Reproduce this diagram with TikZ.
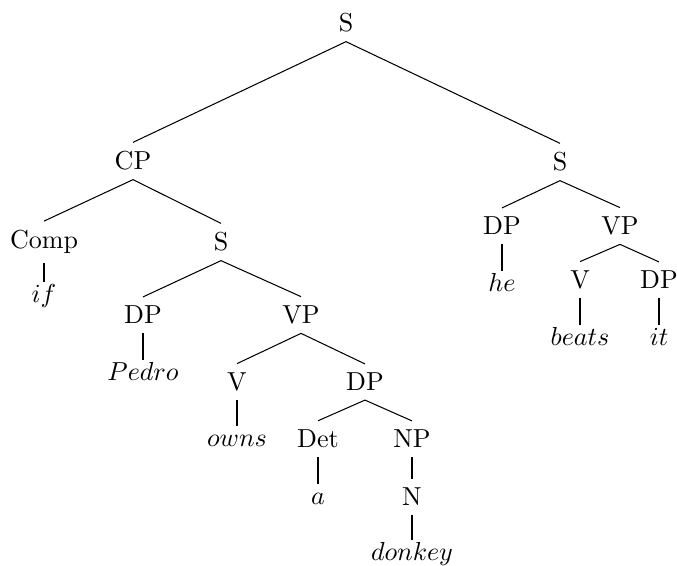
\documentclass[tikz,border=0pt]{standalone}
\usepackage{amsmath}

\begin{document}
\begin{tikzpicture}[x=0.01351cm, y=-0.01351cm,
                    word/.style={anchor=base, text height=1ex, text depth=0pt}]
            \useasboundingbox (0,0) rectangle (677,565);
            % left clause
            \begin{scope}
              \node (s0) at (346,23) {S};
              \node (cp) at (133,161) {CP};
              \node (comp) at (44,242) {Comp};
              \node[word] (if) at (44,302) {$if$};
              \node (s2) at (221,242) {S};
              \node (dp1) at (143,315) {DP};
              \node[word] (pedro) at (143,380) {$Pedro$};
              \node (vp1) at (301,315) {VP};
              \node (v1) at (237,382) {V};
              \node[word] (owns) at (237,446) {$owns$};
              \node (dp2) at (365,382) {DP};
              \node (det) at (318,439) {Det};
              \node[word] (a) at (318,504) {$a$};
              \node (np) at (412,439) {NP};
              \node (n) at (412,497) {N};
              \node[word] (donkey) at (412,560) {$donkey$};
            \end{scope}
            % right clause
            \begin{scope}
              \node (s1) at (560,162) {S};
              \node (dp3) at (502,226) {DP};
              \node[word] (he) at (502,291) {$he$};
              \node (vp3) at (620,226) {VP};
              \node (v3) at (580,280) {V};
              \node[word] (beats) at (580,345) {$beats$};
              \node (dp4) at (659,280) {DP};
              \node[word] (it) at (659,345) {$it$};
            \end{scope}
            \begin{scope}
              \draw (s0.south) -- (cp.north);
              \draw (s0.south) -- (s1.north);
              \draw (cp.south) -- (comp.north);
              \draw (cp.south) -- (s2.north);
              \draw (comp.south) -- (if.north);
              \draw (s2.south) -- (dp1.north);
              \draw (s2.south) -- (vp1.north);
              \draw (dp1.south) -- (pedro.north);
              \draw (vp1.south) -- (v1.north);
              \draw (vp1.south) -- (dp2.north);
              \draw (v1.south) -- (owns.north);
              \draw (dp2.south) -- (det.north);
              \draw (dp2.south) -- (np.north);
              \draw (det.south) -- (a.north);
              \draw (np.south) -- (n.north);
              \draw (n.south) -- (donkey.north);
              \draw (s1.south) -- (dp3.north);
              \draw (s1.south) -- (vp3.north);
              \draw (dp3.south) -- (he.north);
              \draw (vp3.south) -- (v3.north);
              \draw (vp3.south) -- (dp4.north);
              \draw (v3.south) -- (beats.north);
              \draw (dp4.south) -- (it.north);
            \end{scope}
\end{tikzpicture}
\end{document}
